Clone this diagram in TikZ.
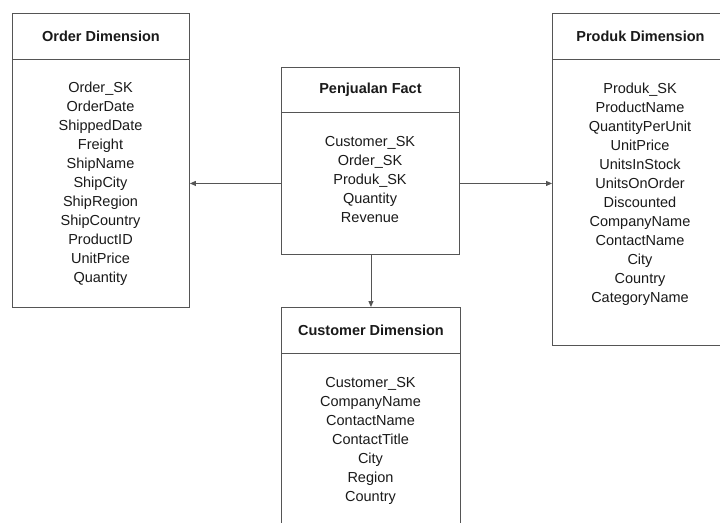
\documentclass[tikz,border=0pt]{standalone}
\usepackage{fontspec}
\setmainfont{Liberation Sans}
\usetikzlibrary{arrows.meta}
\definecolor{linec}{HTML}{555555}
\definecolor{txtc}{HTML}{1A1A1A}
\begin{document}
\begin{tikzpicture}[x=1pt,y=-1pt,
  boxshape/.style={draw=linec,line width=0.9pt,rectangle,inner sep=0pt,anchor=north west},
  headtxt/.style={font=\fontsize{14.5}{17}\selectfont\bfseries,text=txtc,inner sep=0pt},
  listtxt/.style={font=\fontsize{14.5}{19}\selectfont,text=txtc,align=center,inner sep=0pt},
  conn/.style={draw=linec,line width=0.9pt,-{Triangle[length=6pt,width=5pt]}}]
\useasboundingbox (0,0) rectangle (720,522);
\clip (0,0) rectangle (720,522);
\fill[white] (0,0) rectangle (720,522);
% Order Dimension
\node[boxshape,minimum width=177pt,minimum height=46pt] (oh) at (12,13) {};
\node[boxshape,minimum width=177pt,minimum height=248pt] (ob) at (12,59) {};
\node[headtxt] (oht) at (oh.center) {Order Dimension};
\node[listtxt] (obt) at (100.5,184) {Order\_SK\\OrderDate\\ShippedDate\\Freight\\ShipName\\ShipCity\\ShipRegion\\ShipCountry\\ProductID\\UnitPrice\\Quantity};
% Penjualan Fact
\node[boxshape,minimum width=178pt,minimum height=45pt] (fh) at (281,67) {};
\node[boxshape,minimum width=178pt,minimum height=142pt] (fb) at (281,112) {};
\node[headtxt] (fht) at (fh.center) {Penjualan Fact};
\node[listtxt] (fbt) at (370,179.5) {Customer\_SK\\Order\_SK\\Produk\_SK\\Quantity\\Revenue};
% Produk Dimension
\node[boxshape,minimum width=176pt,minimum height=46pt] (ph) at (552,13) {};
\node[boxshape,minimum width=176pt,minimum height=286pt] (pb) at (552,59) {};
\node[headtxt] (pht) at (ph.center) {Produk Dimension};
\node[listtxt] (pbt) at (640,194) {Produk\_SK\\ProductName\\QuantityPerUnit\\UnitPrice\\UnitsInStock\\UnitsOnOrder\\Discounted\\CompanyName\\ContactName\\City\\Country\\CategoryName};
% Customer Dimension
\node[boxshape,minimum width=179pt,minimum height=46pt] (ch) at (281,307) {};
\node[boxshape,minimum width=179pt,minimum height=200pt] (cb) at (281,353) {};
\node[headtxt] (cht) at (ch.center) {Customer Dimension};
\node[listtxt] (cbt) at (370.5,441) {Customer\_SK\\CompanyName\\ContactName\\ContactTitle\\City\\Region\\Country};
% connectors
\draw[conn] (fb.west) -- (ob.east);
\draw[conn] (fb.east) -- (fb.east -| pb.west);
\draw[conn] (fb.south -| ch.north) -- (ch.north);
\end{tikzpicture}
\end{document}
